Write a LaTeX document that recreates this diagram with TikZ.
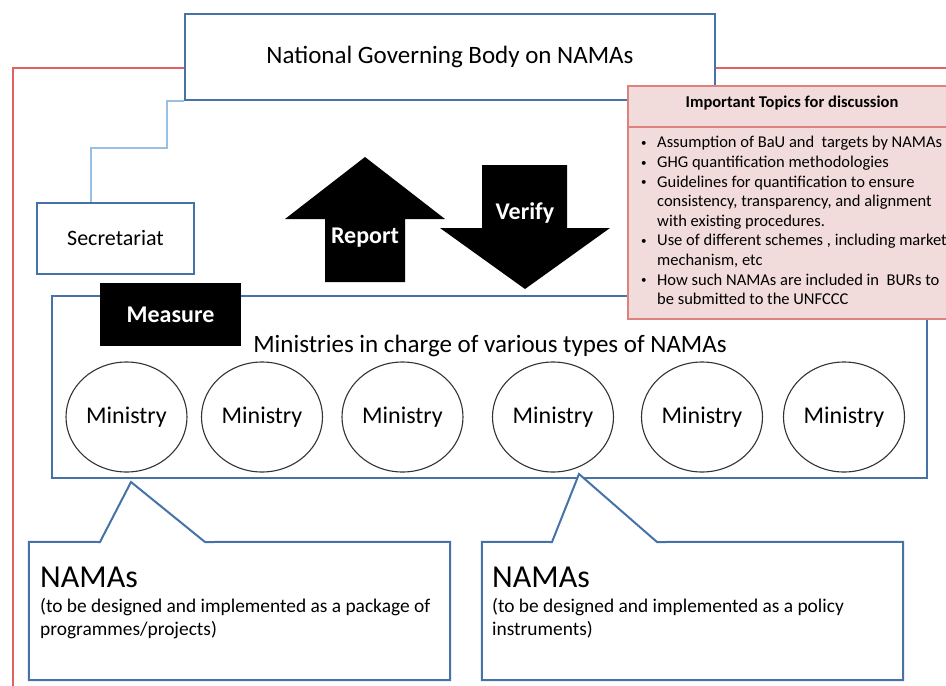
\documentclass[tikz,border=0pt]{standalone}
\usepackage{fontspec}
\setmainfont{Carlito}
\definecolor{boxblue}{RGB}{70,114,168}
\definecolor{linkblue}{RGB}{150,192,228}
\definecolor{framered}{RGB}{226,96,96}
\definecolor{topicfill}{RGB}{242,220,219}
\definecolor{topicline}{RGB}{222,130,128}
\newcommand{\tbul}{\raisebox{1.5pt}{\fontsize{11}{11}\selectfont\textbullet}}
\tikzset{
  bluebox/.style={draw=boxblue, line width=2pt, fill=white, rectangle, inner sep=0pt},
  ministry/.style={draw=black!80, line width=1.1pt, ellipse, minimum width=121pt, minimum height=110pt, inner sep=0pt, font=\fontsize{24}{28}\selectfont},
  bigarrow/.style={fill=black},
  whitelabel/.style={text=white, font=\bfseries\fontsize{24}{28}\selectfont, inner sep=0pt},
  callout/.style={draw=boxblue, line width=2pt, fill=white, line join=miter},
}
\usetikzlibrary{shapes.geometric}
\begin{document}
\begin{tikzpicture}[x=1pt,y=-1pt]
\useasboundingbox (0,0) rectangle (946,686);
\fill[white] (0,0) rectangle (946,686);

% red frame
\coordinate (rtl) at (13,68);
\coordinate (rbl) at (13,686);
\coordinate (rr) at (946,68);
\draw[framered, line width=2pt] (rbl) -- (rtl) -- (185,68);
\draw[framered, line width=2pt] (715,68) -- (rr);

% National governing body
\node[bluebox, minimum width=530pt, minimum height=86pt, font=\fontsize{25}{30}\selectfont] (ngb) at (450,57) {National Governing Body on NAMAs};

% secretariat
\node[bluebox, minimum width=157pt, minimum height=71pt, font=\fontsize{22}{26}\selectfont] (sec) at (115.5,238.5) {Secretariat};
\coordinate (s1) at (167,148);
\coordinate (s2) at (91,148);
\draw[linkblue, line width=2pt] (ngb.south west) -| (s1) -- (s2) -- (s2 |- sec.north);

% ministries box
\node[bluebox, minimum width=875pt, minimum height=182pt] (min) at (489.5,387) {};
\node[font=\fontsize{25}{30}\selectfont, inner sep=0pt] (mtitle) at (490,346) {Ministries in charge of various types of NAMAs};
\node[ministry] (m1) at (126.5,417) {Ministry};
\node[ministry] (m2) at (262,417) {Ministry};
\node[ministry] (m3) at (402.5,417) {Ministry};
\node[ministry] (m4) at (553,417) {Ministry};
\node[ministry] (m5) at (702,417) {Ministry};
\node[ministry] (m6) at (844,417) {Ministry};

% measure
\node[fill=black, minimum width=141pt, minimum height=63pt, inner sep=0pt, text=white, font=\bfseries\fontsize{24}{28}\selectfont] (measure) at (170.5,314.5) {Measure};

% report arrow
\fill[bigarrow] (365,157) -- (445,219) -- (405,219) -- (405,282) -- (325,282) -- (325,219) -- (285,219) -- cycle;
\node[whitelabel] (report) at (365,238) {Report};
% verify arrow
\fill[bigarrow] (482,165) -- (567,165) -- (567,228) -- (610,228) -- (525,289) -- (440,228) -- (482,228) -- cycle;
\node[whitelabel] (verify) at (525,213) {Verify};

% topics box
\node[draw=topicline, fill=topicfill, line width=1.6pt, minimum width=335pt, minimum height=233pt, anchor=north west, inner sep=0pt] (topics) at (627,85) {};
\draw[topicline, line width=1.6pt] (627,127) -- (962,127);
\node[font=\bfseries\fontsize{16.5}{20}\selectfont, inner sep=0pt] (thead) at (792,103) {Important Topics for discussion};
\node[anchor=north west, inner sep=0pt, font=\fontsize{16.5}{19.6}\selectfont] (tlist) at (641,134) {%
\begin{tabular}{@{}p{16pt}@{}l@{}}
\tbul & Assumption of BaU and~ targets by NAMAs\\
\tbul & GHG quantification methodologies\\
\tbul & Guidelines for quantification to ensure\\
 & consistency, transparency, and alignment\\
 & with existing procedures.\\
\tbul & Use of different schemes , including market\\
 & mechanism, etc\\
\tbul & How such NAMAs are included in~ BURs to\\
 & be submitted to the UNFCCC
\end{tabular}};

% callouts
\node[minimum width=421pt, minimum height=138pt, inner sep=0pt] (nl) at (239.5,611) {};
\node[minimum width=421pt, minimum height=138pt, inner sep=0pt] (nr) at (692.5,611) {};
\coordinate (tipl) at (131,482);
\coordinate (bl1) at (100,542);
\coordinate (bl2) at (205,542);
\coordinate (tipr) at (579,474);
\coordinate (br1) at (552,542);
\coordinate (br2) at (657,542);
\draw[callout] (tipl) -- (bl1) -- (nl.north west) -- (nl.south west) -- (nl.south east) -- (nl.north east) -- (bl2) -- cycle;
\draw[callout] (tipr) -- (br1) -- (nr.north west) -- (nr.south west) -- (nr.south east) -- (nr.north east) -- (br2) -- cycle;

\node[anchor=base west, inner sep=0pt, font=\fontsize{32}{36}\selectfont] (nlt) at (40,587) {NAMAs};
\node[anchor=base west, inner sep=0pt, font=\fontsize{19.4}{23}\selectfont, align=left] (nlb) at (40,635) {(to be designed and implemented as a package of\\programmes/projects)};
\node[anchor=base west, inner sep=0pt, font=\fontsize{32}{36}\selectfont] (nrt) at (492,587) {NAMAs};
\node[anchor=base west, inner sep=0pt, font=\fontsize{19.4}{23}\selectfont, align=left] (nrb) at (492,635) {(to be designed and implemented as a policy\\instruments)};
\end{tikzpicture}
\end{document}
